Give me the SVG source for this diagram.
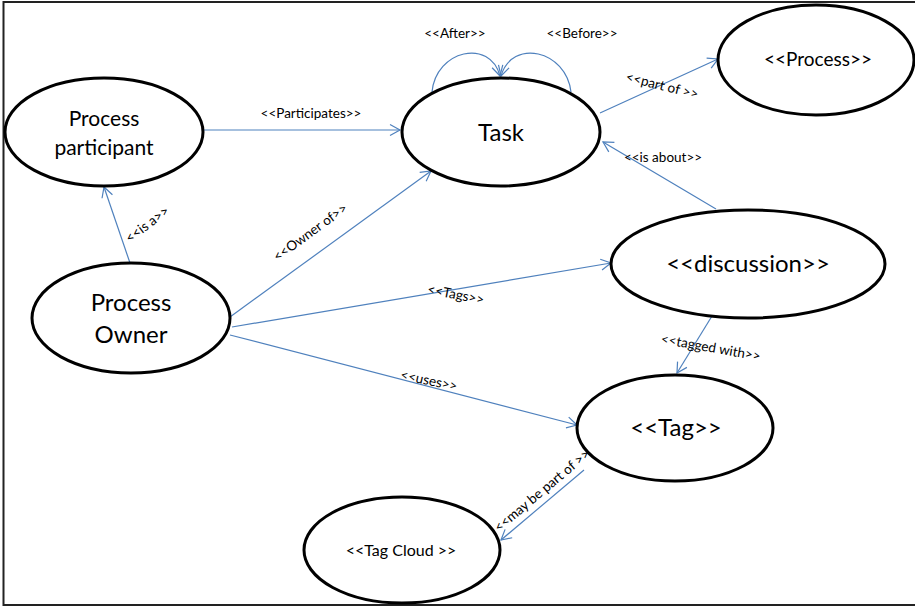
<svg xmlns="http://www.w3.org/2000/svg" width="915" height="607" viewBox="0 0 915 607">
  <style>
    .node ellipse { fill: #fff; stroke: #000; stroke-width: 3; }
    .node text { font-family: Lato, "Open Sans", "Liberation Sans", sans-serif; fill: #000; text-anchor: middle; }
    .edge { fill: none; stroke: #4f81bd; stroke-width: 1.2; marker-end: url(#open); }
    .lbl { font-family: Lato, "Open Sans", "Liberation Sans", sans-serif; font-size: 13.5px; fill: #000; text-anchor: middle; }
  </style>
  <defs>
    <marker id="open" markerUnits="userSpaceOnUse" markerWidth="14" markerHeight="14" viewBox="-12 -7 14 14" refX="0" refY="0" orient="auto">
      <path d="M-10,-5.5 L0,0 L-10,5.5" fill="none" stroke="#4f81bd" stroke-width="1.2"/>
    </marker>
  </defs>

  <rect width="915" height="607" fill="#fff"/>
  <!-- frame: top, left and bottom edges -->
  <path d="M915,2 L3.5,2 L3.5,605 L915,605" fill="none" stroke="#222" stroke-width="2"/>

  <g id="connectors">
    <path class="edge" d="M432,92 C436,50 490,38 500,76"/>
    <path class="edge" d="M571,92 C566,50 512,38 501,76"/>
    <path class="edge" d="M204,130 L400,130"/>
    <path class="edge" d="M600,113 L718,59"/>
    <path class="edge" d="M716,209 L603,142"/>
    <path class="edge" d="M130,263 L104,187"/>
    <path class="edge" d="M230,317 L431,171"/>
    <path class="edge" d="M232,327 L611,263"/>
    <path class="edge" d="M230,335 L577,425"/>
    <path class="edge" d="M712,316 L677,373"/>
    <path class="edge" d="M584,470 L501,540"/>

    <text class="lbl" x="455" y="38">&lt;&lt;After&gt;&gt;</text>
    <text class="lbl" x="582" y="38">&lt;&lt;Before&gt;&gt;</text>
    <text class="lbl" x="311" y="118">&lt;&lt;Participates&gt;&gt;</text>
    <text class="lbl" transform="translate(661,90) rotate(14)">&lt;&lt;part of &gt;&gt;</text>
    <text class="lbl" x="663" y="162">&lt;&lt;is about&gt;&gt;</text>
    <text class="lbl" transform="translate(150,228) rotate(-37)">&lt;&lt;is a&gt;&gt;</text>
    <text class="lbl" transform="translate(313,236) rotate(-36)">&lt;&lt;Owner of&gt;&gt;</text>
    <text class="lbl" transform="translate(455,299) rotate(11)">&lt;&lt;Tags&gt;&gt;</text>
    <text class="lbl" transform="translate(428,385) rotate(12)">&lt;&lt;uses&gt;&gt;</text>
    <text class="lbl" transform="translate(710,352) rotate(10)">&lt;&lt;tagged with&gt;&gt;</text>
    <text class="lbl" transform="translate(545,494) rotate(-40)">&lt;&lt;may be part of &gt;&gt;</text>
  </g>

  <g id="process-participant" class="node">
    <ellipse cx="104" cy="132" rx="99" ry="54"/>
    <text x="104" y="126" font-size="21">Process</text>
    <text x="104" y="155" font-size="21">participant</text>
  </g>
  <g id="process-owner" class="node">
    <ellipse cx="131" cy="318" rx="99" ry="55"/>
    <text x="131" y="311" font-size="24">Process</text>
    <text x="131" y="343" font-size="24">Owner</text>
  </g>
  <g id="task" class="node">
    <ellipse cx="501" cy="132" rx="99" ry="54"/>
    <text x="501" y="141" font-size="24">Task</text>
  </g>
  <g id="process" class="node">
    <ellipse cx="816" cy="60" rx="98" ry="55"/>
    <text x="818" y="66" font-size="19">&lt;&lt;Process&gt;&gt;</text>
  </g>
  <g id="discussion" class="node">
    <ellipse cx="748" cy="264" rx="137" ry="54"/>
    <text x="748" y="272" font-size="24">&lt;&lt;discussion&gt;&gt;</text>
  </g>
  <g id="tag" class="node">
    <ellipse cx="675" cy="428" rx="98" ry="53"/>
    <text x="676" y="436" font-size="24">&lt;&lt;Tag&gt;&gt;</text>
  </g>
  <g id="tag-cloud" class="node">
    <ellipse cx="402" cy="550" rx="98" ry="53"/>
    <text x="401" y="556" font-size="16">&lt;&lt;Tag Cloud &gt;&gt;</text>
  </g>
</svg>
